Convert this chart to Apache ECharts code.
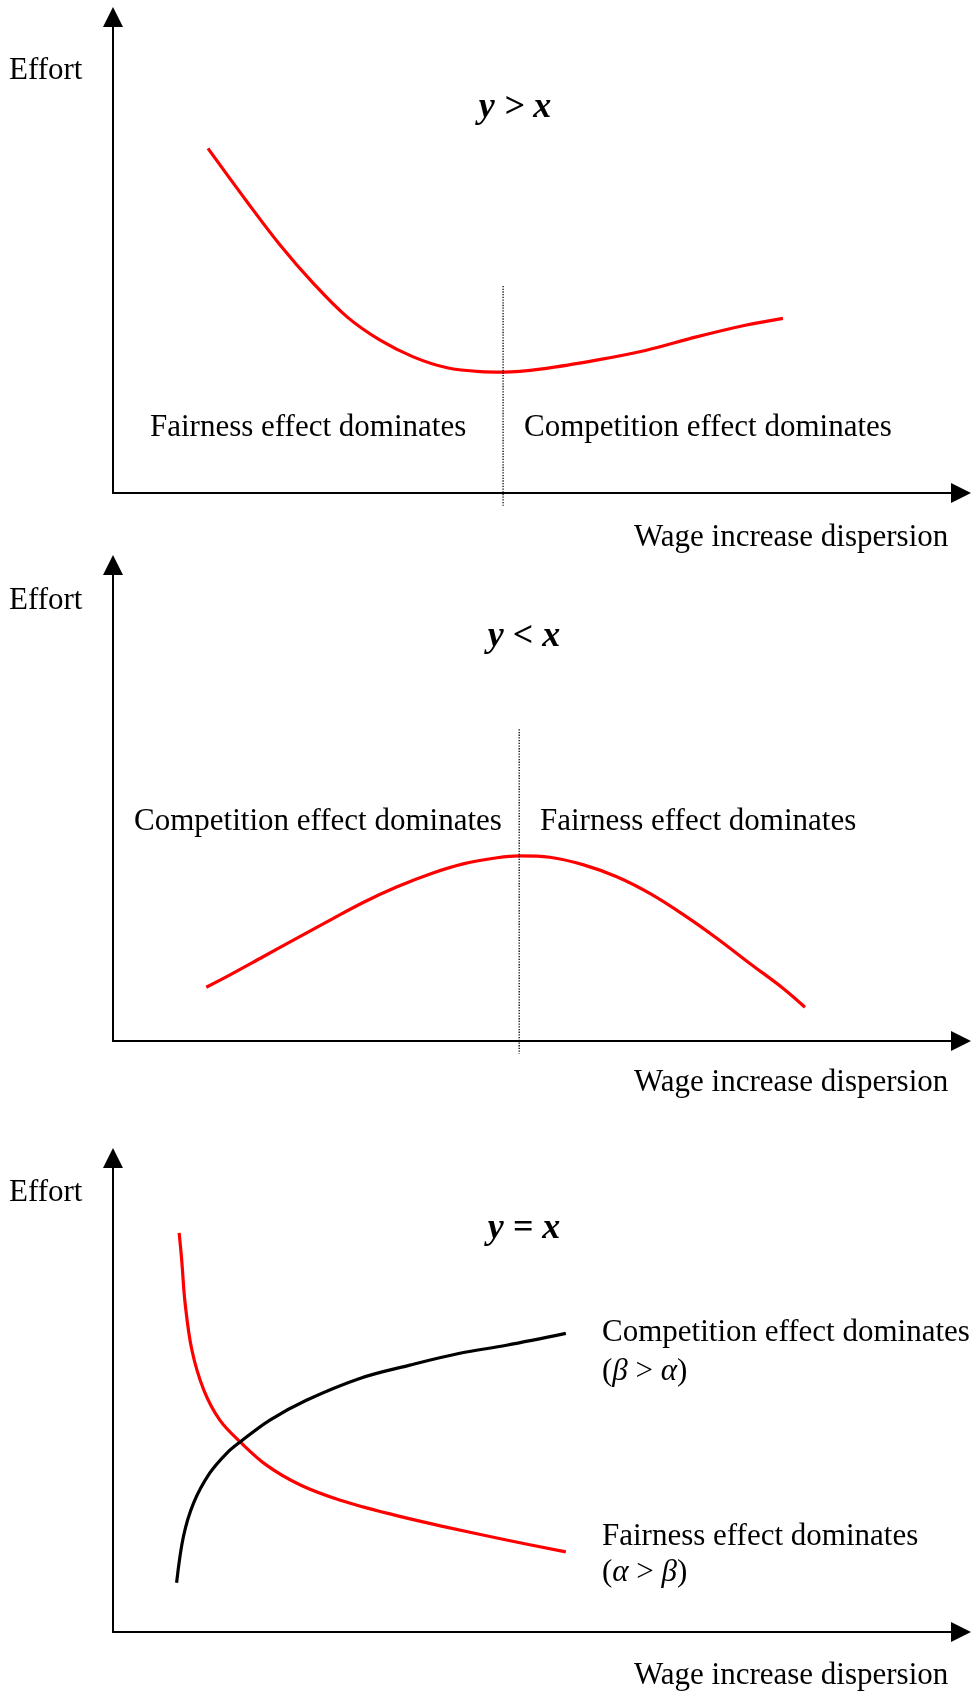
<!DOCTYPE html>
<html>
<head>
<meta charset="utf-8">
<script src="https://cdn.jsdelivr.net/npm/echarts@6/dist/echarts.min.js"></script>
<style>
  html, body { margin: 0; padding: 0; background: #ffffff; }
  #chart { width: 976px; height: 1697px; }
</style>
</head>
<body>
<div id="chart"></div>
<script>
// ---------- Data (abstract units: x 0..100, y 0..100 within each panel) ----------
const panelTitles = ['y > x', 'y < x', 'y = x'];
const yAxisName = 'Effort';
const xAxisName = 'Wage increase dispersion';

// Panel 1 (y > x): U-shaped effort curve
const p1Curve = [
  [11.2, 72.4], [15.8, 61.2], [19.7, 52.1], [23.6, 44.1], [27.6, 37.0],
  [31.5, 32.1], [35.4, 28.6], [39.4, 26.3], [43.3, 25.5], [46.0, 25.4],
  [51.1, 26.2], [57.0, 27.9], [62.9, 30.0], [68.8, 32.8], [74.7, 35.3],
  [79.0, 36.7]
];
const p1Divider = [[46.0, 43.5], [46.0, -2.7]];
const p1Labels = ['Fairness effect dominates', 'Competition effect dominates'];

// Panel 2 (y < x): inverted-U effort curve
const p2Curve = [
  [11.0, 11.3], [13.8, 13.9], [17.7, 17.7], [21.7, 21.6], [25.6, 25.4],
  [29.5, 29.1], [33.5, 32.4], [37.4, 35.1], [41.3, 37.2], [45.3, 38.5],
  [47.9, 38.9], [51.5, 38.6], [55.5, 37.0], [59.4, 34.5], [63.3, 31.0],
  [67.3, 26.5], [71.2, 21.6], [75.1, 16.3], [79.0, 11.1], [81.6, 7.1]
];
const p2Divider = [[47.9, 65.5], [47.9, -2.7]];
const p2Labels = ['Competition effect dominates', 'Fairness effect dominates'];

// Panel 3 (y = x): fairness (red, decreasing) vs competition (black, increasing)
const p3Fairness = [
  [7.8, 84.2], [8.1, 78.5], [8.5, 69.4], [9.3, 59.5], [10.7, 51.1],
  [12.6, 44.7], [15.0, 40.1], [18.1, 35.2], [22.1, 31.0], [26.8, 27.8],
  [33.1, 24.7], [38.6, 22.4], [46.4, 19.4], [53.4, 16.9]
];
const p3Competition = [
  [7.5, 10.4], [8.3, 20.1], [9.5, 27.2], [11.4, 33.5], [13.4, 37.7],
  [15.0, 40.1], [18.5, 44.7], [22.8, 48.9], [29.1, 53.5], [35.0, 56.3],
  [40.9, 58.8], [46.4, 60.5], [53.4, 63.0]
];
const p3Labels = ['Competition effect dominates', 'Fairness effect dominates'];

// ---------- Styling ----------
const FONT = '"Liberation Serif", "Times New Roman", serif';
const FS = 31;
const TITLE_FS = 36;
const RED = '#ff0000';

function axisCommon(idx) {
  return {
    type: 'value', gridIndex: idx, min: 0, max: 100,
    axisLine: { show: true, symbol: ['none', 'triangle'], symbolSize: [20, 20],
                lineStyle: { color: '#000', width: 2 } },
    axisTick: { show: false }, axisLabel: { show: false }, splitLine: { show: false }
  };
}

function curve(data, idx, color) {
  return {
    type: 'line', xAxisIndex: idx, yAxisIndex: idx, data: data,
    smooth: 0.35, showSymbol: false, symbol: 'none', silent: true,
    lineStyle: { color: color, width: 3.2 }
  };
}
function divider(data, idx) {
  return {
    type: 'line', xAxisIndex: idx, yAxisIndex: idx, data: data, clip: false,
    showSymbol: false, symbol: 'none', silent: true,
    lineStyle: { color: '#000', width: 1.3, type: [1.3, 1.4] }
  };
}

function txt(text, x, y, opts) {
  opts = opts || {};
  return {
    type: 'text', x: x, y: y, silent: true,
    style: Object.assign({
      text: text, fill: '#000', fontFamily: FONT, fontSize: FS,
      textAlign: opts.align || 'left', textVerticalAlign: 'middle'
    }, opts.style || {})
  };
}
const titleStyle = { style: { fontWeight: 'bold', fontStyle: 'italic', fontSize: TITLE_FS }, align: 'center' };
const greekRich = {
  i: { fontStyle: 'italic', fontFamily: FONT, fontSize: FS, fill: '#000' },
  n: { fontFamily: FONT, fontSize: FS, fill: '#000' }
};
const BL = -8;   // offset from baseline to middle (body text)
const TBL = -10; // offset from baseline to middle (titles)

const option = {
  animation: false,
  backgroundColor: '#ffffff',
  grid: [
    { left: 113, top: 17, width: 848, height: 476 },
    { left: 113, top: 565, width: 848, height: 476 },
    { left: 113, top: 1158, width: 848, height: 474 }
  ],
  xAxis: [axisCommon(0), axisCommon(1), axisCommon(2)],
  yAxis: [axisCommon(0), axisCommon(1), axisCommon(2)],
  series: [
    curve(p1Curve, 0, RED), divider(p1Divider, 0),
    curve(p2Curve, 1, RED), divider(p2Divider, 1),
    curve(p3Fairness, 2, RED), curve(p3Competition, 2, '#000')
  ],
  graphic: [
    // Panel 1
    txt(yAxisName, 9, 79 + BL),
    txt(panelTitles[0], 515, 118 + TBL, titleStyle),
    txt(p1Labels[0], 150, 436 + BL),
    txt(p1Labels[1], 524, 436 + BL),
    txt(xAxisName, 634, 546 + BL),
    // Panel 2
    txt(yAxisName, 9, 609 + BL),
    txt(panelTitles[1], 524, 647 + TBL, titleStyle),
    txt(p2Labels[0], 134, 830 + BL),
    txt(p2Labels[1], 540, 830 + BL),
    txt(xAxisName, 634, 1091 + BL),
    // Panel 3
    txt(yAxisName, 9, 1201 + BL),
    txt(panelTitles[2], 524, 1239 + TBL, titleStyle),
    txt(p3Labels[0], 602, 1341 + BL),
    txt('{n|(}{i|β}{n| > }{i|α}{n|)}', 602, 1380 + BL, { style: { rich: greekRich } }),
    txt(p3Labels[1], 602, 1545 + BL),
    txt('{n|(}{i|α}{n| > }{i|β}{n|)}', 602, 1581 + BL, { style: { rich: greekRich } }),
    txt(xAxisName, 634, 1684 + BL)
  ]
};

const chart = echarts.init(document.getElementById('chart'), null, { renderer: 'canvas' });
chart.setOption(option);
</script>
</body>
</html>
